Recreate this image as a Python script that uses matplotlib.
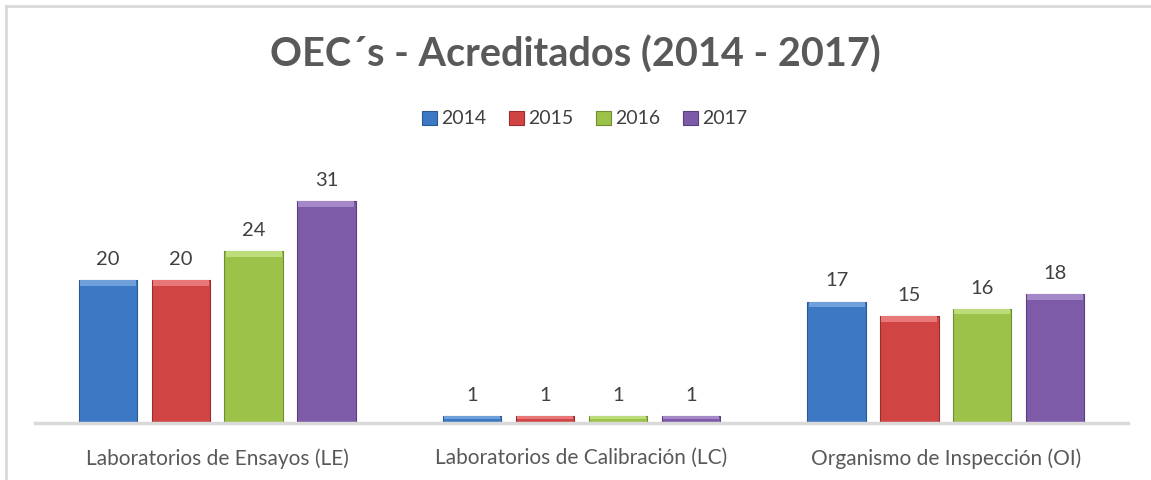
import matplotlib.pyplot as plt
import numpy as np
from matplotlib.patches import Rectangle
from matplotlib.lines import Line2D

categories = ['Laboratorios de Ensayos (LE)', 'Laboratorios de Calibración (LC)', 'Organismo de Inspección (OI)']
years = ['2014', '2015', '2016', '2017']
v2014 = [20, 1, 17]
v2015 = [20, 1, 15]
v2016 = [24, 1, 16]
v2017 = [31, 1, 18]
colors = ['#3C78C3', '#D04444', '#9CC24A', '#7E5BA8']
dark = ['#2A5A96', '#9A2E2E', '#6F8E2F', '#5A3F7E']
light = ['#6FA0DA', '#E87878', '#BEDC7A', '#A488C8']

plt.rcParams['font.family'] = ['Lato', 'DejaVu Sans']

fig = plt.figure(figsize=(11.51, 4.8), dpi=100)
ax = fig.add_axes([35 / 1151, (480 - 423) / 480, (1128 - 35) / 1151, (423 - 150) / 480])

x = np.arange(len(categories))
step = 0.2
width = 0.16
for i, (vals, c) in enumerate(zip([v2014, v2015, v2016, v2017], colors)):
    pos = x + (i - 1.5) * step
    ax.bar(pos, vals, width=width, color=c, edgecolor=dark[i], linewidth=0.8, zorder=2)
    # bevel highlight on top
    bev = 0.8
    ax.bar(pos, [min(bev, v * 0.5) for v in vals], width=width * 0.96,
           bottom=[v - min(bev, v * 0.5) for v in vals], color=light[i], linewidth=0, zorder=3)
    for p, v in zip(pos, vals):
        ax.text(p, v + 1.7, str(v), ha='center', va='bottom', fontsize=14.5, color='#404040')

ax.set_xlim(-0.5, 2.5)
ax.set_ylim(0, 38.2)
ax.set_xticks(x)
ax.set_xticklabels(categories, fontsize=15, color='#595959')
ax.tick_params(axis='x', length=0, pad=18)
ax.set_yticks([])
for s in ['top', 'right', 'left']:
    ax.spines[s].set_visible(False)
ax.spines['bottom'].set_color('#D9D9D9')
ax.spines['bottom'].set_linewidth(2.5)

handles = [Rectangle((0, 0), 1, 1, facecolor=c, edgecolor=d, linewidth=0.8) for c, d in zip(colors, dark)]
fig.legend(handles, years, loc='center', bbox_to_anchor=(0.508, 1 - 119 / 480), ncol=4,
           frameon=False, fontsize=14, handlelength=0.75, handleheight=0.75,
           handletextpad=0.2, columnspacing=1.2, labelcolor='#404040')

fig.text(0.5, 1 - 55 / 480, 'OEC´s - Acreditados (2014 - 2017)', ha='center', va='center',
         fontsize=28.5, fontweight='bold', color='#595959')

# outer frame
fig.add_artist(Line2D([5.5 / 1151, 5.5 / 1151], [0, 1 - 5.5 / 480], color='#D9D9D9', linewidth=2))
fig.add_artist(Line2D([5.5 / 1151, 1], [1 - 5.5 / 480, 1 - 5.5 / 480], color='#D9D9D9', linewidth=2))

fig.savefig('out.png', dpi=100)
